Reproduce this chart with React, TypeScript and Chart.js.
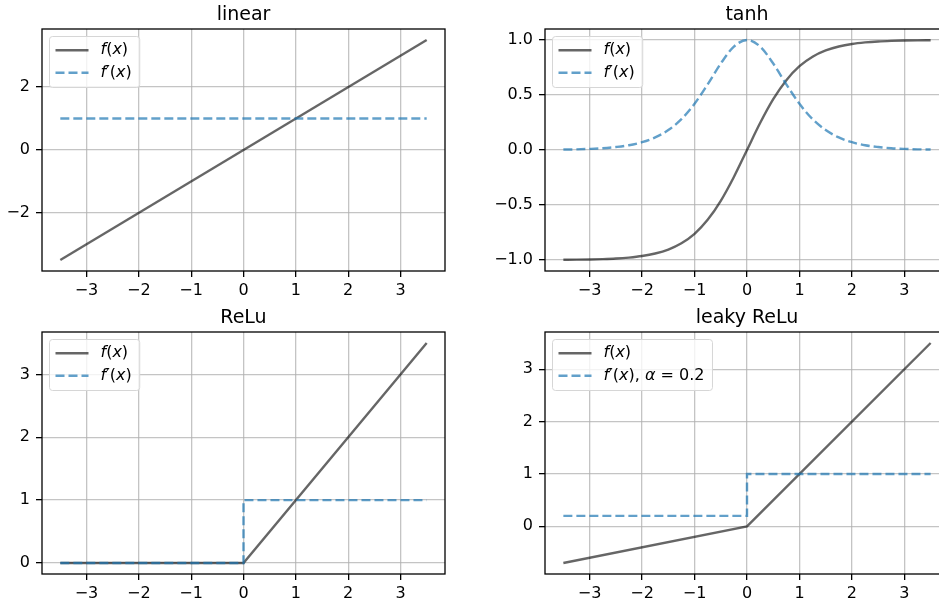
import React, { useEffect, useRef } from "react";
import { Chart, registerables } from "chart.js";

Chart.register(...registerables);

// ---------- data ----------
const xTicks = [-3, -2, -1, 0, 1, 2, 3];
const xRange = [-3.85, 3.85];

const linearX = [-3.5, 3.5];
const linearF = [-3.5, 3.5];
const linearD = [1, 1];
const linearYTicks = [-2, 0, 2];
const linearYRange = [-3.85, 3.85];

const tanhX = [
  -3.5, -3.25, -3, -2.75, -2.5, -2.25, -2, -1.75, -1.5, -1.25, -1, -0.75, -0.5, -0.25, 0,
  0.25, 0.5, 0.75, 1, 1.25, 1.5, 1.75, 2, 2.25, 2.5, 2.75, 3, 3.25, 3.5,
];
const tanhF = [
  -0.998, -0.997, -0.995, -0.992, -0.987, -0.978, -0.964, -0.941, -0.905, -0.848, -0.762, -0.635, -0.462, -0.245, 0,
  0.245, 0.462, 0.635, 0.762, 0.848, 0.905, 0.941, 0.964, 0.978, 0.987, 0.992, 0.995, 0.997, 0.998,
];
const tanhD = [
  0.004, 0.006, 0.01, 0.016, 0.027, 0.043, 0.071, 0.114, 0.181, 0.28, 0.42, 0.597, 0.786, 0.94, 1,
  0.94, 0.786, 0.597, 0.42, 0.28, 0.181, 0.114, 0.071, 0.043, 0.027, 0.016, 0.01, 0.006, 0.004,
];
const tanhYTicks = [-1, -0.5, 0, 0.5, 1];
const tanhYRange = [-1.1, 1.1];

const reluX = [-3.5, 0, 3.5];
const reluF = [0, 0, 3.5];
const reluDX = [-3.5, 0, 0, 3.5];
const reluD = [0, 0, 1, 1];
const reluYTicks = [0, 1, 2, 3];
const reluYRange = [-0.175, 3.675];

const leakyX = [-3.5, 0, 3.5];
const leakyF = [-0.7, 0, 3.5];
const leakyDX = [-3.5, 0, 0, 3.5];
const leakyD = [0.2, 0.2, 1, 1];
const leakyYTicks = [0, 1, 2, 3];
const leakyYRange = [-0.91, 3.71];

const titles = ["linear", "tanh", "ReLu", "leaky ReLu"];
const labelF = "f(x)";
const labelD = "f′(x)";
const labelDLeaky = "f′(x), α = 0.2";

// ---------- style ----------
const FONT = "'DejaVu Sans', sans-serif";
const TICK_SIZE = 16;
const TITLE_SIZE = 19;
const F_COLOR = "rgba(0,0,0,0.6)";
const D_COLOR = "rgba(31,119,180,0.7)";

const zip = (xs: number[], ys: number[]) => xs.map((x, i) => ({ x, y: ys[i] }));
const fmt = (v: number, dec: number) => {
  const s = Math.abs(v).toFixed(dec);
  return v < 0 ? "\u2212" + s : s;
};

function drawMath(ctx: CanvasRenderingContext2D, text: string, x: number, y: number, size: number) {
  let cx = x;
  for (const ch of text) {
    const italic = /[a-zA-Zα-ω]/.test(ch);
    ctx.font = `${italic ? "oblique " : ""}${size}px ${FONT}`;
    ctx.fillText(ch, cx, y);
    cx += ctx.measureText(ch).width;
  }
  return cx - x;
}
function measureMath(ctx: CanvasRenderingContext2D, text: string, size: number) {
  let w = 0;
  for (const ch of text) {
    const italic = /[a-zA-Zα-ω]/.test(ch);
    ctx.font = `${italic ? "oblique " : ""}${size}px ${FONT}`;
    w += ctx.measureText(ch).width;
  }
  return w;
}

const framePlugin = {
  id: "frame",
  afterDraw(chart: any, _a: any, opts: any) {
    const { ctx, chartArea: a } = chart;
    ctx.save();
    // spines
    ctx.strokeStyle = "#000";
    ctx.lineWidth = 1.3;
    ctx.strokeRect(a.left, a.top, a.right - a.left, a.bottom - a.top);
    // title
    ctx.fillStyle = "#000";
    ctx.font = `${TITLE_SIZE}px ${FONT}`;
    ctx.textAlign = "center";
    ctx.textBaseline = "alphabetic";
    ctx.fillText(opts.title, (a.left + a.right) / 2, a.top - 9.5);
    // legend
    ctx.textAlign = "left";
    ctx.textBaseline = "middle";
    const ds = chart.data.datasets;
    const fs = TICK_SIZE;
    const bx = a.left + 7.5;
    const by = a.top + 7.5;
    const textW = Math.max(...ds.map((d: any) => measureMath(ctx, d.label, fs)));
    const bw = 6 + 33 + 12 + textW + 8;
    const bh = 51;
    ctx.beginPath();
    (ctx as any).roundRect(bx, by, bw, bh, 3);
    ctx.fillStyle = "rgba(255,255,255,0.8)";
    ctx.fill();
    ctx.strokeStyle = "#d6d6d6";
    ctx.lineWidth = 1;
    ctx.stroke();
    ds.forEach((d: any, i: number) => {
      const ry = by + 13.7 + i * 22.6;
      ctx.beginPath();
      ctx.setLineDash(d.borderDash || []);
      ctx.strokeStyle = d.borderColor;
      ctx.lineWidth = d.borderWidth;
      ctx.moveTo(bx + 6, ry);
      ctx.lineTo(bx + 39, ry);
      ctx.stroke();
      ctx.setLineDash([]);
      ctx.fillStyle = "#000";
      drawMath(ctx, d.label, bx + 51, ry, fs);
    });
    ctx.restore();
  },
};

type Spec = {
  title: string;
  left: number;
  top: number;
  w: number;
  h: number;
  padTop: number;
  yW: number;
  xH: number;
  fData: { x: number; y: number }[];
  dData: { x: number; y: number }[];
  dLabel: string;
  yTicks: number[];
  yRange: number[];
  dec: number;
  smooth: boolean;
};

const specs: Spec[] = [
  {
    title: titles[0], left: 0, top: 0, w: 470, h: 300, padTop: 29, yW: 42, xH: 29,
    fData: zip(linearX, linearF), dData: zip(linearX, linearD), dLabel: labelD,
    yTicks: linearYTicks, yRange: linearYRange, dec: 0, smooth: false,
  },
  {
    title: titles[1], left: 470, top: 0, w: 504, h: 300, padTop: 29, yW: 75, xH: 29,
    fData: zip(tanhX, tanhF), dData: zip(tanhX, tanhD), dLabel: labelD,
    yTicks: tanhYTicks, yRange: tanhYRange, dec: 1, smooth: true,
  },
  {
    title: titles[2], left: 0, top: 300, w: 470, h: 304, padTop: 32, yW: 42, xH: 30,
    fData: zip(reluX, reluF), dData: zip(reluDX, reluD), dLabel: labelD,
    yTicks: reluYTicks, yRange: reluYRange, dec: 0, smooth: false,
  },
  {
    title: titles[3], left: 470, top: 300, w: 504, h: 304, padTop: 32, yW: 75, xH: 30,
    fData: zip(leakyX, leakyF), dData: zip(leakyDX, leakyD), dLabel: labelDLeaky,
    yTicks: leakyYTicks, yRange: leakyYRange, dec: 0, smooth: false,
  },
];

function Panel({ s }: { s: Spec }) {
  const ref = useRef<HTMLCanvasElement>(null);
  useEffect(() => {
    const grid = {
      color: "rgba(176,176,176,0.75)",
      lineWidth: 1.3,
      drawTicks: true,
      tickLength: 6,
      tickColor: "#000",
      tickWidth: 1.3,
    };
    const chart = new Chart(ref.current as HTMLCanvasElement, {
      type: "line",
      data: {
        datasets: [
          {
            label: labelF, data: s.fData, borderColor: F_COLOR, borderWidth: 2.4,
            pointRadius: 0, fill: false, order: 1,
            cubicInterpolationMode: s.smooth ? "monotone" : "default",
          } as any,
          {
            label: s.dLabel, data: s.dData, borderColor: D_COLOR, borderWidth: 2.4,
            borderDash: [9, 4], pointRadius: 0, fill: false, order: 0,
            cubicInterpolationMode: s.smooth ? "monotone" : "default",
          } as any,
        ],
      },
      options: {
        animation: false,
        responsive: false,
        devicePixelRatio: 1,
        layout: { padding: { top: s.padTop, right: 25, left: 0, bottom: 0 } },
        plugins: {
          legend: { display: false },
          title: { display: false },
          tooltip: { enabled: false },
          frame: { title: s.title },
        } as any,
        scales: {
          x: {
            type: "linear", min: xRange[0], max: xRange[1], grid,
            border: { display: false },
            afterBuildTicks: (sc: any) => { sc.ticks = xTicks.map((v) => ({ value: v })); },
            afterFit: (sc: any) => { sc.height = s.xH; },
            ticks: {
              autoSkip: false, maxRotation: 0, padding: 4, color: "#000",
              font: { family: FONT, size: TICK_SIZE },
              callback: (v: any) => fmt(Number(v), 0),
            },
          },
          y: {
            type: "linear", min: s.yRange[0], max: s.yRange[1], grid,
            border: { display: false },
            afterBuildTicks: (sc: any) => { sc.ticks = s.yTicks.map((v) => ({ value: v })); },
            afterFit: (sc: any) => { sc.width = s.yW; },
            ticks: {
              autoSkip: false, padding: 6, color: "#000",
              font: { family: FONT, size: TICK_SIZE },
              callback: (v: any) => fmt(Number(v), s.dec),
            },
          },
        },
      },
      plugins: [framePlugin],
    } as any);
    return () => chart.destroy();
  }, [s]);
  return (
    <canvas
      ref={ref}
      width={s.w}
      height={s.h}
      style={{ position: "absolute", left: s.left, top: s.top, width: s.w, height: s.h }}
    />
  );
}

export default function App() {
  return (
    <div style={{ position: "fixed", left: 0, top: 0, width: 939, height: 604, overflow: "hidden", background: "#fff" }}>
      {specs.map((s, i) => (
        <Panel key={i} s={s} />
      ))}
    </div>
  );
}
